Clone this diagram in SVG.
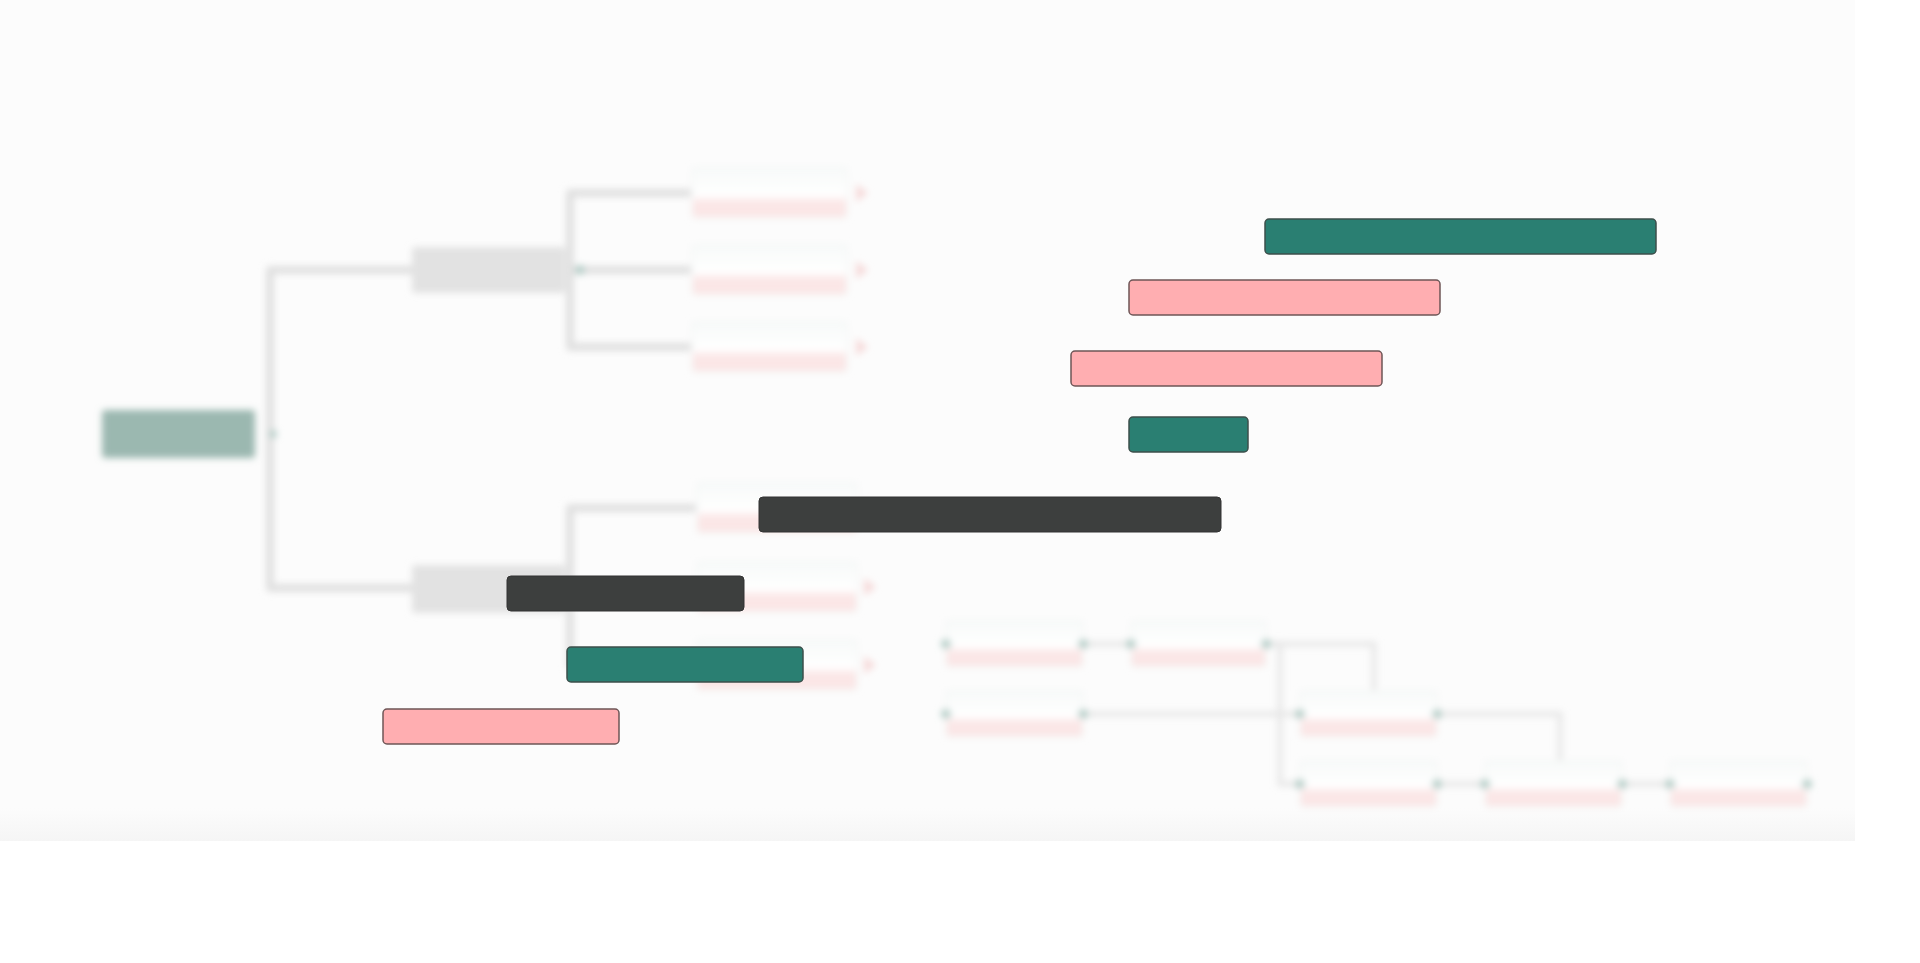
<svg xmlns="http://www.w3.org/2000/svg" width="1920" height="963" viewBox="0 0 1920 963">
<defs>
<filter id="blur" x="-10%" y="-10%" width="120%" height="120%"><feGaussianBlur stdDeviation="3.5"/></filter>
<linearGradient id="panelBottom" x1="0" y1="0" x2="0" y2="1">
<stop offset="0" stop-color="#fcfcfc"/><stop offset="1" stop-color="#f5f5f5"/>
</linearGradient>
<linearGradient id="leafFill" x1="0" y1="0" x2="0" y2="1">
<stop offset="0" stop-color="#f7faf9"/><stop offset="0.55" stop-color="#ffffff"/><stop offset="0.68" stop-color="#fbe6e6"/><stop offset="1" stop-color="#fbe6e6"/>
</linearGradient>
</defs>
<style>
.conn{fill:none;stroke:#e0e0e0;stroke-width:8;stroke-linejoin:round}
.fconn{fill:none;stroke:#e6e6e6;stroke-width:5}
.root{fill:#9bb8b0}
.mid{fill:#e2e2e2}
.leaf{fill:url(#leafFill);stroke:#f4f6f5;stroke-width:2}
.dot{fill:#b3cdc7}
.tip{fill:#f6dada}
.teal{fill:#2a7f72;stroke:#3d4f4b;stroke-width:1.5}
.pink{fill:#ffaeb1;stroke:#6e5556;stroke-width:1.5}
.dark{fill:#3d3f3e;stroke:#333;stroke-width:1}
</style>
<rect x="0" y="0" width="1920" height="963" fill="#ffffff"/>
<rect x="0" y="0" width="1855" height="808" fill="#fcfcfc"/>
<rect x="0" y="808" width="1855" height="33" fill="url(#panelBottom)"/>
<g filter="url(#blur)">
<g id="connectors">
<path class="conn" d="M415,270 H270 V588 H415"/>
<path class="conn" d="M692,193 H570 V347 H692 M566,270 H692"/>
<path class="conn" d="M697,508 H570 V665 H697 M566,588 H697"/>
<path class="fconn" d="M1083,644 H1131"/>
<path class="fconn" d="M1266,644 H1374 V697"/>
<path class="fconn" d="M1266,644 H1280 V784 H1300"/>
<path class="fconn" d="M1083,714 H1300"/>
<path class="fconn" d="M1437,714 H1560 V760"/>
<path class="fconn" d="M1437,784 H1485"/>
<path class="fconn" d="M1622,784 H1670"/>
</g>
<g id="root"><rect class="root" x="102" y="410" width="153" height="48" rx="3"/><circle class="dot" cx="273" cy="434" r="4"/></g>
<g id="mid1"><rect class="mid" x="412" y="247" width="153" height="46" rx="3"/><circle class="dot" cx="580" cy="270" r="5"/></g>
<g id="mid2"><rect class="mid" x="412" y="565" width="153" height="48" rx="3"/></g>
<g id="leaf1"><rect class="leaf" x="692" y="168" width="155" height="50" rx="3"/><path class="tip" d="M856,184 L868,193 L856,202 Z"/></g>
<g id="leaf2"><rect class="leaf" x="692" y="245" width="155" height="50" rx="3"/><path class="tip" d="M856,261 L868,270 L856,279 Z"/></g>
<g id="leaf3"><rect class="leaf" x="692" y="322" width="155" height="50" rx="3"/><path class="tip" d="M856,338 L868,347 L856,356 Z"/></g>
<g id="leaf4"><rect class="leaf" x="697" y="483" width="160" height="50" rx="3"/><path class="tip" d="M864,499 L876,508 L864,517 Z"/></g>
<g id="leaf5"><rect class="leaf" x="697" y="562" width="160" height="50" rx="3"/><path class="tip" d="M864,578 L876,587 L864,596 Z"/></g>
<g id="leaf6"><rect class="leaf" x="697" y="640" width="160" height="50" rx="3"/><path class="tip" d="M864,656 L876,665 L864,674 Z"/></g>
<g id="fA"><rect class="leaf" x="946" y="621" width="137" height="46" rx="3"/><circle class="dot" cx="946" cy="644" r="5"/><circle class="dot" cx="1083" cy="644" r="5"/></g>
<g id="fB"><rect class="leaf" x="1131" y="621" width="135" height="46" rx="3"/><circle class="dot" cx="1131" cy="644" r="5"/><circle class="dot" cx="1266" cy="644" r="5"/></g>
<g id="fC"><rect class="leaf" x="946" y="691" width="137" height="46" rx="3"/><circle class="dot" cx="946" cy="714" r="5"/><circle class="dot" cx="1083" cy="714" r="5"/></g>
<g id="fD"><rect class="leaf" x="1300" y="691" width="137" height="46" rx="3"/><circle class="dot" cx="1300" cy="714" r="5"/><circle class="dot" cx="1437" cy="714" r="5"/></g>
<g id="fE"><rect class="leaf" x="1300" y="761" width="137" height="46" rx="3"/><circle class="dot" cx="1300" cy="784" r="5"/><circle class="dot" cx="1437" cy="784" r="5"/></g>
<g id="fF"><rect class="leaf" x="1485" y="761" width="137" height="46" rx="3"/><circle class="dot" cx="1485" cy="784" r="5"/><circle class="dot" cx="1622" cy="784" r="5"/></g>
<g id="fG"><rect class="leaf" x="1670" y="761" width="137" height="46" rx="3"/><circle class="dot" cx="1670" cy="784" r="5"/><circle class="dot" cx="1807" cy="784" r="5"/></g>
</g>
<g id="bars">
<rect id="bar1" class="teal" x="1265" y="219" width="391" height="35" rx="4"/>
<rect id="bar2" class="pink" x="1129" y="280" width="311" height="35" rx="4"/>
<rect id="bar3" class="pink" x="1071" y="351" width="311" height="35" rx="4"/>
<rect id="bar4" class="teal" x="1129" y="417" width="119" height="35" rx="4"/>
<rect id="bar5" class="dark" x="759" y="497" width="462" height="35" rx="4"/>
<rect id="bar6" class="dark" x="507" y="576" width="237" height="35" rx="4"/>
<rect id="bar7" class="teal" x="567" y="647" width="236" height="35" rx="4"/>
<rect id="bar8" class="pink" x="383" y="709" width="236" height="35" rx="4"/>
</g>
</svg>
